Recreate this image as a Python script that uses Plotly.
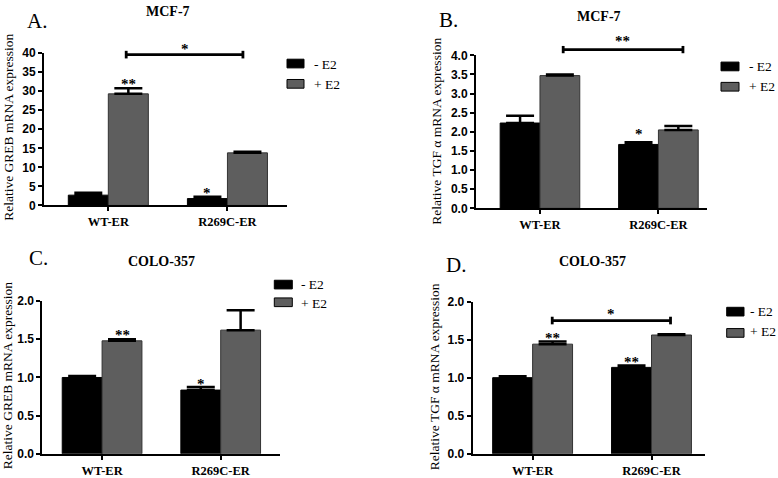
import plotly.graph_objects as go

# ---------------- data ----------------
categories = ["WT-ER", "R269C-ER"]
series_names = ["- E2", "+ E2"]

# Panel A: MCF-7, GREB
a_minus = [2.7, 1.8]
a_minus_err = [0.6, 0.5]
a_plus = [29.3, 13.8]
a_plus_err = [1.5, 0.3]

# Panel B: MCF-7, TGF alpha
b_minus = [2.23, 1.67]
b_minus_err = [0.19, 0.06]
b_plus = [3.47, 2.05]
b_plus_err = [0.03, 0.10]

# Panel C: COLO-357, GREB
c_minus = [1.00, 0.835]
c_minus_err = [0.02, 0.04]
c_plus = [1.48, 1.62]
c_plus_err = [0.02, 0.26]

# Panel D: COLO-357, TGF alpha
d_minus = [1.00, 1.135]
d_minus_err = [0.02, 0.025]
d_plus = [1.44, 1.56]
d_plus_err = [0.035, 0.01]

W, H = 778, 478
BLACK = "#000000"
GREY = "#5e5e5e"
SERIF = "Liberation Serif"
SANS = "Liberation Sans"

fig = go.Figure()

def px_x(p):
    return p / W

def px_y(p):
    return 1 - p / H

panels = {
    "A": dict(x="x", y="y", xa="xaxis", ya="yaxis", mn=a_minus, mne=a_minus_err, pl=a_plus, ple=a_plus_err,
              xd=(44, 287), yd=(205.3, 47.7), yr=(0, 40), xr=(-0.54, 1.50), dt=5, fmt="d"),
    "B": dict(x="x2", y="y2", xa="xaxis2", ya="yaxis2", mn=b_minus, mne=b_minus_err, pl=b_plus, ple=b_plus_err,
              xd=(476, 707), yd=(208.3, 50), yr=(0, 4), xr=(-0.54, 1.41), dt=0.5, fmt=".1f"),
    "C": dict(x="x3", y="y3", xa="xaxis3", ya="yaxis3", mn=c_minus, mne=c_minus_err, pl=c_plus, ple=c_plus_err,
              xd=(42.3, 280), yd=(462.3, 304.3), yr=(0, 2), xr=(-0.504, 1.50), dt=0.5, fmt=".1f"),
    "D": dict(x="x4", y="y4", xa="xaxis4", ya="yaxis4", mn=d_minus, mne=d_minus_err, pl=d_plus, ple=d_plus_err,
              xd=(472.7, 705), yd=(462.3, 304.7), yr=(0, 2), xr=(-0.504, 1.45), dt=0.5, fmt=".1f"),
}

xpos = [0, 1]
layout_axes = {}
for p in panels.values():
    for vals, errs, col, name in [(p["mn"], p["mne"], BLACK, series_names[0]),
                                  (p["pl"], p["ple"], GREY, series_names[1])]:
        fig.add_trace(go.Bar(
            x=xpos, y=vals, name=name, xaxis=p["x"], yaxis=p["y"],
            marker=dict(color=col, line=dict(color="#333333" if col == GREY else BLACK, width=1)),
            error_y=dict(type="data", array=errs, arrayminus=[0] * len(errs), symmetric=False,
                         color=BLACK, thickness=2.5, width=14),
            showlegend=False,
        ))
    layout_axes[p["xa"]] = dict(
        domain=[px_x(p["xd"][0]), px_x(p["xd"][1])], range=list(p["xr"]), anchor=p["y"],
        tickvals=xpos, ticktext=[f"<b>{c}</b>" for c in categories],
        showline=True, linecolor=BLACK, linewidth=2, ticks="outside", ticklen=4, tickwidth=2,
        tickcolor=BLACK, showgrid=False, zeroline=False, fixedrange=True,
        tickfont=dict(family=SERIF, size=12.5, color=BLACK),
    )
    layout_axes[p["ya"]] = dict(
        domain=[px_y(p["yd"][0]), px_y(p["yd"][1])], range=list(p["yr"]), anchor=p["x"],
        dtick=p["dt"], tick0=0, tickformat=p["fmt"],
        showline=True, linecolor=BLACK, linewidth=2, ticks="outside", ticklen=4, tickwidth=2,
        tickcolor=BLACK, showgrid=False, zeroline=False, fixedrange=True,
        tickfont=dict(family=SANS, size=12, color=BLACK, weight="bold"),
    )


def val_to_paper(panel, v):
    """Map a data value on a panel's y axis to paper coordinates (for marks above the axis range)."""
    p = panels[panel]
    d0, d1 = px_y(p["yd"][0]), px_y(p["yd"][1])
    r0, r1 = p["yr"]
    return d0 + (v - r0) / (r1 - r0) * (d1 - d0)


shapes = []
annotations = []


def bracket(panel, x0, x1, yv, cap):
    p = panels[panel]
    yc = val_to_paper(panel, yv)
    yl = val_to_paper(panel, yv - cap)
    yh = val_to_paper(panel, yv + cap)
    shapes.append(dict(type="line", xref=p["x"], yref="paper", x0=x0, x1=x1, y0=yc, y1=yc,
                       line=dict(color=BLACK, width=2.8)))
    for xx in (x0, x1):
        shapes.append(dict(type="line", xref=p["x"], yref="paper", x0=xx, x1=xx, y0=yl, y1=yh,
                           line=dict(color=BLACK, width=2.8)))


def star(panel, xv, yv, text):
    p = panels[panel]
    annotations.append(dict(xref=p["x"], yref="paper", x=xv, y=val_to_paper(panel, yv),
                            text=f"<b>{text}</b>", showarrow=False,
                            font=dict(family=SERIF, size=15, color=BLACK), yanchor="middle", yshift=-3))


# significance brackets
bracket("A", 0.15, 1.13, 39.6, 1.0)
star("A", 0.64, 41.9, "*")
bracket("B", 0.196, 1.207, 4.15, 0.095)
star("B", 0.70, 4.45, "**")
bracket("D", 0.165, 1.16, 1.75, 0.05)
star("D", 0.66, 1.87, "*")

# stars over bars
star("A", 0.168, 32.6, "**")
star("A", 0.832, 4.0, "*")
star("B", 0.832, 2.03, "*")
star("C", 0.168, 1.59, "**")
star("C", 0.832, 0.96, "*")
star("D", 0.168, 1.56, "**")
star("D", 0.832, 1.24, "**")


def ptext(x, y, text, size, bold=False, family=SERIF, xanchor="center", angle=0):
    annotations.append(dict(xref="paper", yref="paper", x=px_x(x), y=px_y(y),
                            text=f"<b>{text}</b>" if bold else text, showarrow=False,
                            xanchor=xanchor, yanchor="middle", textangle=angle,
                            font=dict(family=family, size=size, color=BLACK)))


# panel letters and titles
ptext(37, 14, "A.", 21)
ptext(167.5, 5, "MCF-7", 14, bold=True)
ptext(448, 13, "B.", 21)
ptext(599, 10, "MCF-7", 14, bold=True)
ptext(38.5, 260, "C.", 21)
ptext(161, 263, "COLO-357", 14, bold=True)
ptext(456, 266.5, "D.", 21)
ptext(592, 263, "COLO-357", 14, bold=True)

# y-axis titles
ptext(9, 125, "Relative GREB mRNA expression", 13.5, angle=-90)
ptext(437, 129, "Relative TGF α mRNA expression", 13.5, angle=-90)
ptext(7, 382, "Relative GREB mRNA expression", 13.5, angle=-90)
ptext(434, 382, "Relative TGF α mRNA expression", 13.5, angle=-90)

# legends (swatch + label)
legend_pos = [
    (287, 304, 54, 63, 75, 84, 312, 59, 80),
    (721, 739, 57, 66, 78, 87, 747, 61.7, 82.3),
    (274.3, 292.3, 282.7, 291.7, 301, 310, 299, 287.3, 306.7),
    (726.7, 744, 310.7, 319.7, 332.7, 341.7, 748, 315, 336),
]
for (sx0, sx1, by0, by1, gy0, gy1, tx, ty1, ty2) in legend_pos:
    shapes.append(dict(type="rect", xref="paper", yref="paper", x0=px_x(sx0), x1=px_x(sx1),
                       y0=px_y(by1), y1=px_y(by0), fillcolor=BLACK, line=dict(color=BLACK, width=1)))
    shapes.append(dict(type="rect", xref="paper", yref="paper", x0=px_x(sx0), x1=px_x(sx1),
                       y0=px_y(gy1), y1=px_y(gy0), fillcolor=GREY, line=dict(color=BLACK, width=1)))
    ptext(tx, ty1, series_names[0], 13.5, xanchor="left")
    ptext(tx, ty2, series_names[1], 13.5, xanchor="left")

fig.update_layout(
    width=W, height=H, margin=dict(l=0, r=0, t=0, b=0),
    paper_bgcolor="white", plot_bgcolor="white",
    barmode="group", bargap=0.328, bargroupgap=0,
    shapes=shapes, annotations=annotations, showlegend=False,
    **layout_axes,
)

fig.write_html(
    "out.html",
    config={"displayModeBar": False},
    post_script="document.body.style.margin='0';document.body.style.overflow='hidden';",
)
